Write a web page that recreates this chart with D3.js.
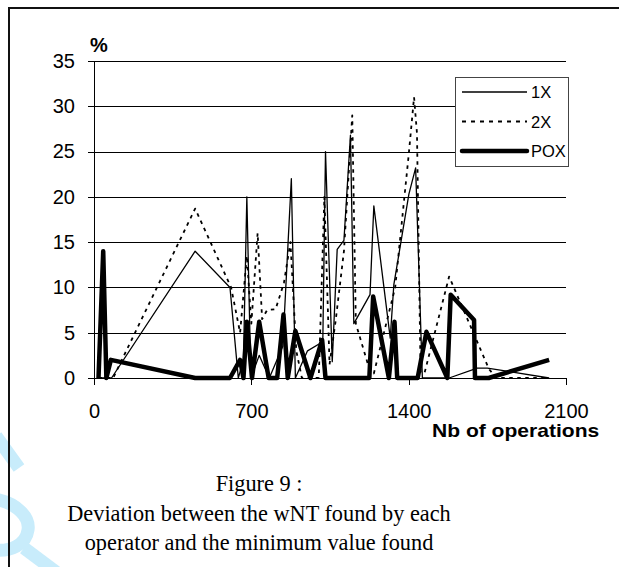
<!DOCTYPE html>
<html>
<head>
<meta charset="utf-8">
<script src="https://cdnjs.cloudflare.com/ajax/libs/d3/7.8.5/d3.min.js"></script>
<style>
	body { margin: 0; background: #fff; }
	svg { display: block; }
</style>
</head>
<body>
<div id="chart-area"></div>
<script>

// values (x = nb of operations, y = deviation in %)
var ops1X = [20, 78, 450, 605, 642, 665, 680, 698, 735, 780, 840, 878, 896, 950, 1018, 1030, 1060, 1082, 1112, 1141, 1156, 1228, 1245, 1318, 1334, 1401, 1431, 1461, 1580, 1705, 1750, 2025];
var val1X = [0, 0, 14, 10, 0, 2, 20, 0, 2.5, 0, 3.5, 22, 0, 3, 4, 25, 1.8, 14.2, 15.2, 26.8, 6, 9.2, 19, 4.4, 10.3, 20.3, 23.2, 0, 0, 1.1, 1.1, 0];

var ops2X = [20, 85, 450, 610, 650, 680, 700, 728, 748, 770, 808, 845, 874, 900, 925, 1000, 1025, 1048, 1075, 1112, 1149, 1165, 1225, 1245, 1340, 1400, 1424, 1437, 1453, 1470, 1580, 1757, 1790, 2025];
var val2X = [0, 0, 18.7, 10, 5, 13.5, 6, 16, 6.5, 7.5, 7.6, 10.5, 15, 3, 0, 0, 20, 1.5, 6.3, 14, 29, 6, 1, 0.5, 10, 24.6, 31, 27, 0.7, 0.5, 11.2, 1, 0, 0];

var opsPOX = [20, 41, 55, 75, 450, 605, 650, 665, 680, 703, 735, 777, 815, 843, 862, 896, 963, 1015, 1030, 1225, 1242, 1312, 1337, 1349, 1440, 1479, 1572, 1587, 1691, 1695, 1756, 2025];
var valPOX = [0, 14, 0, 2, 0, 0, 2, 0, 6.2, 0, 6.2, 0, 0, 7, 0, 5.2, 0, 4.2, 0, 0, 9, 0, 6.2, 0, 0, 5.1, 0, 9.2, 6.4, 0, 0, 2];

var seriesNames = ["1X", "2X", "POX"];
var xTicks = [0, 700, 1400, 2100];
var yTicks = [0, 5, 10, 15, 20, 25, 30, 35];
var caption = ["Figure 9 :", "Deviation between the wNT found by each", "operator and the minimum value found"];

var width = 619;
var height = 567;

var svg = d3.select("#chart-area").append("svg")
	.attr("width", width)
	.attr("height", height);

// light blue watermark at the left edge
var mark = svg.append("g")
	.attr("fill", "none")
	.attr("stroke", "#c8ecfb")
	.attr("stroke-width", 13);
mark.append("path").attr("d", "M-4,436 L19,468");
mark.append("path").attr("d", "M-6,499 C18,503 30,518 28,530 C26,545 10,552 -6,550");
mark.append("path").attr("d", "M24,548 L56,572");

// page frame
svg.append("path")
	.attr("d", "M9,575 L9,8 L630,8")
	.attr("fill", "none")
	.attr("stroke", "#111")
	.attr("stroke-width", 2);

var x = d3.scaleLinear().domain([0, 2100]).range([94, 566]);
var y = d3.scaleLinear().domain([0, 35]).range([378, 61]);

// grid
svg.append("g")
	.attr("transform", "translate(94,0)")
	.call(d3.axisLeft(y).tickValues(yTicks.slice(1)).tickSize(-472).tickFormat(""))
	.call(function(g){
		g.select(".domain").remove();
		g.selectAll("line").attr("stroke", "#222").attr("shape-rendering", "crispEdges");
	});

var yAxis = svg.append("g")
	.attr("transform", "translate(94,0)")
	.call(d3.axisLeft(y).tickValues(yTicks).tickSize(6).tickSizeOuter(0).tickPadding(13).tickFormat(d3.format("d")));

var xAxis = svg.append("g")
	.attr("transform", "translate(0,378)")
	.call(d3.axisBottom(x).tickValues(xTicks).tickSize(7).tickSizeOuter(0).tickPadding(19).tickFormat(d3.format("d")));

svg.selectAll(".tick text")
	.attr("font-family", "'Liberation Sans', Arial, sans-serif")
	.attr("font-size", 20)
	.attr("fill", "#000");
svg.selectAll(".domain, .tick line").attr("stroke", "#000").attr("shape-rendering", "crispEdges");

svg.append("text")
	.attr("x", 90)
	.attr("y", 52)
	.attr("font-family", "'Liberation Sans', Arial, sans-serif")
	.attr("font-weight", "bold")
	.attr("font-size", 20)
	.text("%");

svg.append("text")
	.attr("transform", "translate(432,437) scale(1.17,1)")
	.attr("font-family", "'Liberation Sans', Arial, sans-serif")
	.attr("font-weight", "bold")
	.attr("font-size", 18)
	.text("Nb of operations");

// series
var styles = {
	"1X":  { width: 1.3, dash: null },
	"2X":  { width: 1.8, dash: "3.5,4.5" },
	"POX": { width: 4.5, dash: null }
};

function toPoints(ops, vals){
	return ops.map(function(d, i){ return [d, vals[i]]; });
}

var series = [
	{ name: "POX", points: toPoints(opsPOX, valPOX) },
	{ name: "2X", points: toPoints(ops2X, val2X) },
	{ name: "1X", points: toPoints(ops1X, val1X) }
];

var line = d3.line()
	.x(function(d){ return x(d[0]); })
	.y(function(d){ return y(d[1]); });

svg.selectAll("path.serie")
	.data(series)
	.enter()
	.append("path")
		.attr("class", "serie")
		.attr("d", function(d){ return line(d.points); })
		.attr("fill", "none")
		.attr("stroke", "#000")
		.attr("stroke-width", function(d){ return styles[d.name].width; })
		.attr("stroke-dasharray", function(d){ return styles[d.name].dash; })
		.attr("stroke-linejoin", "round");

// legend
var legend = svg.append("g");
legend.append("rect")
	.attr("x", 455.5)
	.attr("y", 77.5)
	.attr("width", 113)
	.attr("height", 89)
	.attr("fill", "#fff")
	.attr("stroke", "#444");

var rows = legend.selectAll("g.row")
	.data(seriesNames)
	.enter()
	.append("g")
		.attr("class", "row")
		.attr("transform", function(d, i){ return "translate(0," + (92 + i * 29.5) + ")"; });

rows.append("line")
	.attr("x1", 462)
	.attr("x2", 527)
	.attr("stroke", "#000")
	.attr("stroke-width", function(d){ return styles[d].width; })
	.attr("stroke-dasharray", function(d){ return d == "2X" ? "4,5" : styles[d].dash; })
	.attr("stroke-linecap", function(d){ return d == "POX" ? "round" : "butt"; });

rows.append("text")
	.attr("x", 531)
	.attr("y", 6)
	.attr("font-family", "'Liberation Sans', Arial, sans-serif")
	.attr("font-size", 16.5)
	.text(function(d){ return d; });

// caption
svg.selectAll("text.caption")
	.data(caption)
	.enter()
	.append("text")
		.attr("class", "caption")
		.attr("x", 259)
		.attr("y", function(d, i){ return 491 + i * 29.5; })
		.attr("text-anchor", "middle")
		.attr("font-family", "'Liberation Serif', 'Times New Roman', serif")
		.attr("font-size", 22.3)
		.text(function(d){ return d; });

</script>
</body>
</html>
